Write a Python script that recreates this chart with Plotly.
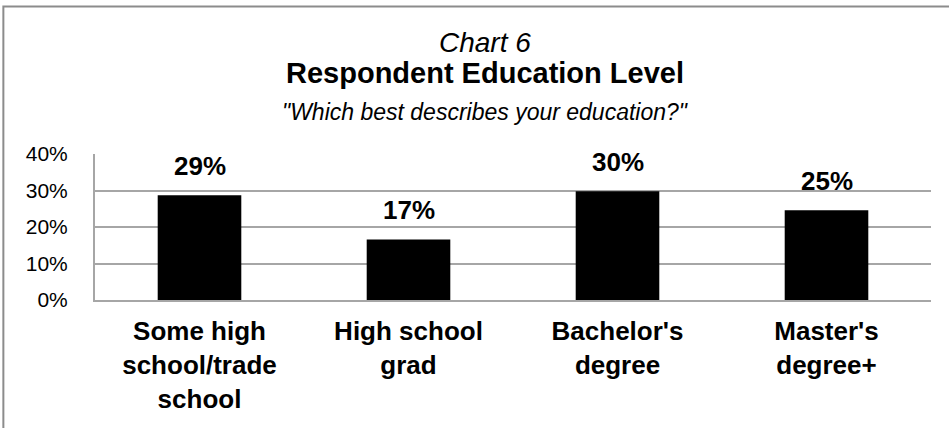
import plotly.graph_objects as go

categories = ["Some high<br>school/trade<br>school", "High school<br>grad", "Bachelor's<br>degree", "Master's<br>degree+"]
values = [0.287, 0.166, 0.298, 0.246]
tick_vals = [0, 0.1, 0.2, 0.3, 0.4]
tick_text = ["0%", "10%", "20%", "30%", "40%"]

W, H = 949, 428
L, R, T, B = 94.7, 17.7, 153.5, 127.5
pw, ph = W - L - R, H - T - B

def px(X):
    return (X - L) / pw

def py(Y):
    return (H - B - Y) / ph

FONT = "Liberation Sans, Arial, sans-serif"
GRID = "#a6a6a6"

fig = go.Figure()
fig.add_trace(go.Bar(x=categories, y=values, width=0.4,
                     marker=dict(color="black", line=dict(width=0)),
                     hoverinfo="skip"))

annotations = []
for c, v in zip(categories, values):
    annotations.append(dict(x=c, y=v, xref="x", yref="y", text=f"<b>{v:.0%}</b>",
                            showarrow=False, yanchor="bottom", yshift=12,
                            font=dict(family=FONT, size=26, color="black")))

annotations += [
    dict(x=px(485), y=py(41), xref="paper", yref="paper", text="<i>Chart 6</i>",
         showarrow=False, xanchor="center", yanchor="middle",
         font=dict(family=FONT, size=28, color="black")),
    dict(x=px(485), y=py(72), xref="paper", yref="paper", text="<b>Respondent Education Level</b>",
         showarrow=False, xanchor="center", yanchor="middle",
         font=dict(family=FONT, size=29, color="black")),
    dict(x=px(485), y=py(111), xref="paper", yref="paper",
         text="<i>\"Which best describes your education?\"</i>",
         showarrow=False, xanchor="center", yanchor="middle",
         font=dict(family=FONT, size=23, color="black")),
]

fig.update_layout(
    width=W, height=H,
    margin=dict(l=L, r=R, t=T, b=B, pad=0),
    paper_bgcolor="white", plot_bgcolor="white",
    showlegend=False,
    bargap=0.6,
    annotations=annotations,
    shapes=[dict(type="rect", xref="paper", yref="paper",
                 x0=px(3), x1=px(970), y0=py(5), y1=py(450),
                 line=dict(color="#8c8c8c", width=2), fillcolor="rgba(0,0,0,0)", layer="above")],
    xaxis=dict(showline=True, linecolor=GRID, linewidth=2, showgrid=False, ticks="",
               tickfont=dict(family=FONT, size=26, color="black", weight="bold"),
               ticklabelstandoff=7, fixedrange=True),
    yaxis=dict(range=[0, 0.4], tickvals=tick_vals, ticktext=tick_text,
               showline=True, linecolor=GRID, linewidth=2,
               showgrid=True, gridcolor=GRID, gridwidth=2, zeroline=False,
               ticks="", ticklabelstandoff=21,
               tickfont=dict(family=FONT, size=21, color="black"), fixedrange=True),
)

fig.write_html("out.html", config={"displayModeBar": False},
               post_script="document.body.style.margin='0';document.body.style.overflow='hidden';")
